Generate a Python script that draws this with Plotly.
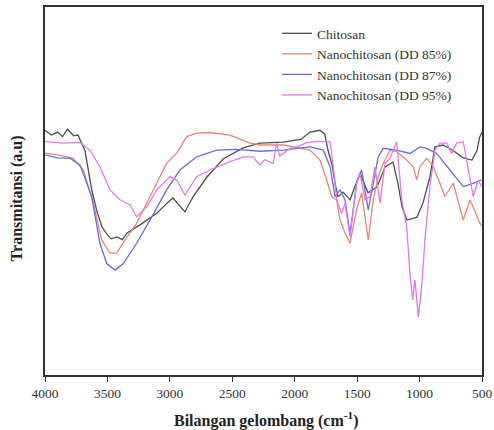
import plotly.graph_objects as go

# Chitosan
wn_chi = [4000, 3950, 3900, 3860, 3820, 3800, 3770, 3736, 3680, 3624, 3580, 3543, 3520, 3503, 3470, 3423, 3380, 3343, 3239,
          3103, 3023, 2975, 2935, 2879, 2815, 2703, 2574, 2414, 2278, 2094, 1950, 1878, 1798, 1760, 1733, 1700, 1677, 1653,
          1613, 1557, 1477, 1413, 1341, 1277, 1213, 1173, 1141, 1101, 1060, 1021, 973, 917, 877, 812, 732, 652, 580, 540, 520, 500]
t_chi = [66.5, 65.2, 66.0, 64.8, 66.8, 66.0, 65.0, 65.2, 61.0, 50.0, 44.0, 40.2, 39.0, 38.2, 37.0, 37.5, 36.8, 38.6, 40.8,
         44.0, 46.7, 48.1, 46.5, 44.3, 48.4, 53.8, 58.7, 61.7, 63.0, 63.3, 64.0, 66.0, 66.5, 65.5, 61.0, 57.0, 52.0, 48.4,
         49.7, 47.6, 54.9, 49.5, 51.1, 56.5, 57.9, 52.0, 45.7, 42.1, 42.5, 42.9, 46.7, 53.8, 62.0, 62.5, 61.0, 59.0, 58.4, 61.0, 64.5, 66.0]

# Nanochitosan (DD 85%)
wn_85 = [4000, 3900, 3773, 3693, 3613, 3546, 3479, 3426, 3359, 3266, 3159, 3026, 2945, 2865, 2785, 2679, 2518, 2358,
         2278, 2091, 1878, 1798, 1744, 1704, 1664, 1637, 1597, 1557, 1504, 1464, 1411, 1371, 1331, 1291, 1237, 1183,
         1103, 1050, 1023, 997, 943, 890, 837, 797, 730, 650, 596, 516, 500]
t_85 = [60.3, 59.8, 58.9, 55.7, 46.7, 36.7, 33.1, 33.1, 36.7, 41.2, 48.5, 57.5, 60.3, 64.8, 65.7, 65.9, 65.2, 63.0,
        62.5, 62.5, 61.1, 58.4, 53.0, 48.5, 47.6, 42.1, 38.5, 35.8, 45.1, 49.4, 36.7, 47.6, 53.9, 57.5, 61.1, 60.7,
        58.4, 56.6, 53.0, 56.6, 58.9, 56.6, 52.1, 48.5, 52.1, 42.1, 47.6, 41.2, 40.5]

# Nanochitosan (DD 87%)
wn_87 = [4000, 3900, 3800, 3720, 3626, 3560, 3506, 3439, 3373, 3266, 3159, 3026, 2919, 2785, 2625, 2465, 2278, 2091,
         1878, 1771, 1717, 1677, 1637, 1597, 1557, 1504, 1464, 1411, 1371, 1331, 1291, 1183, 1077, 997, 943, 863,
         757, 650, 570, 503]
t_87 = [59.8, 59.0, 58.9, 57.1, 48.5, 35.8, 30.3, 28.5, 30.3, 35.8, 42.1, 50.3, 55.7, 59.3, 61.1, 61.3, 60.8, 61.1,
        62.0, 61.1, 56.6, 48.5, 50.3, 47.6, 38.5, 52.1, 55.7, 44.8, 52.1, 59.3, 61.6, 61.1, 60.2, 62.0, 61.6, 60.2,
        55.7, 51.2, 52.1, 53.0]

# Nanochitosan (DD 95%)
wn_95 = [4000, 3850, 3720, 3640, 3560, 3479, 3399, 3319, 3266, 3185, 3105, 2999, 2945, 2879, 2785, 2679, 2518, 2412,
         2332, 2305, 2278, 2240, 2172, 2144, 2120, 2091, 2040, 1984, 1900, 1824, 1717, 1691, 1664, 1624, 1597, 1557,
         1504, 1477, 1437, 1397, 1357, 1317, 1277, 1237, 1183, 1143, 1103, 1077, 1055, 1037, 1010, 983, 957, 917,
         877, 837, 783, 743, 703, 650, 610, 570, 530, 503]
t_95 = [63.4, 63.0, 63.2, 61.1, 56.6, 50.3, 47.6, 46.2, 43.0, 45.7, 50.3, 53.9, 53.0, 48.9, 53.9, 55.7, 58.0, 59.3,
        59.3, 58.0, 57.1, 58.5, 57.5, 63.0, 59.5, 60.2, 61.5, 62.0, 63.2, 63.4, 63.4, 56.6, 47.6, 43.9, 46.7, 37.6,
        52.1, 54.8, 47.6, 48.5, 56.6, 46.7, 57.5, 58.9, 63.4, 47.6, 40.3, 27.6, 20.4, 25.8, 15.8, 24.0, 36.7, 51.2,
        61.1, 63.0, 63.0, 60.2, 63.0, 63.4, 55.7, 48.5, 53.0, 51.2]

names = ["Chitosan", "Nanochitosan (DD 85%)", "Nanochitosan (DD 87%)", "Nanochitosan (DD 95%)"]
colors = ["#4d4d4d", "#e5877a", "#6b6bdc", "#e27ae8"]
xs = [wn_chi, wn_85, wn_87, wn_95]
ys = [t_chi, t_85, t_87, t_95]

xticks = [4000, 3500, 3000, 2500, 2000, 1500, 1000, 500]

fig = go.Figure()
for n, c, x, y in zip(names, colors, xs, ys):
    fig.add_trace(go.Scatter(x=x, y=y, mode="lines", name=n,
                             line=dict(color=c, width=1.3)))

fig.update_layout(
    width=494, height=430,
    margin=dict(l=45, r=12, t=7, b=55),
    plot_bgcolor="white", paper_bgcolor="white",
    font=dict(family="Liberation Serif", color="#222", size=13),
    showlegend=True,
    legend=dict(x=0.531, y=0.97, xanchor="left", yanchor="top",
                bgcolor="rgba(0,0,0,0)", font=dict(size=13.5, family="Liberation Serif", color="#333"),
                tracegroupgap=0, itemwidth=30),
    xaxis=dict(range=[4000, 500], tickvals=xticks, ticks="outside", ticklen=5,
               tickwidth=1.3, tickcolor="#333", showgrid=False, zeroline=False,
               showline=True, linecolor="#333", linewidth=1.5, mirror=True, automargin=False,
               tickfont=dict(size=13.5, family="Liberation Serif", color="#333")),
    yaxis=dict(range=[0, 100], showticklabels=False, ticks="", showgrid=False, automargin=False,
               zeroline=False, showline=True, linecolor="#333", linewidth=1.5, mirror=True),
    annotations=[
        dict(text="<b>Bilangan gelombang (cm<sup>-1</sup>)</b>", xref="paper", yref="paper",
             x=0.505, y=-0.122, xanchor="center", yanchor="middle", showarrow=False,
             font=dict(size=16, family="Liberation Serif", color="#222")),
        dict(text="<b>Transmitansi (a.u)</b>", xref="paper", yref="paper",
             x=-0.064, y=0.48, xanchor="center", yanchor="middle", showarrow=False, textangle=-90,
             font=dict(size=16, family="Liberation Serif", color="#222")),
    ],
)

fig.write_html("out.html", config={"displayModeBar": False},
               post_script="document.body.style.margin='0';document.body.style.overflow='hidden';")
